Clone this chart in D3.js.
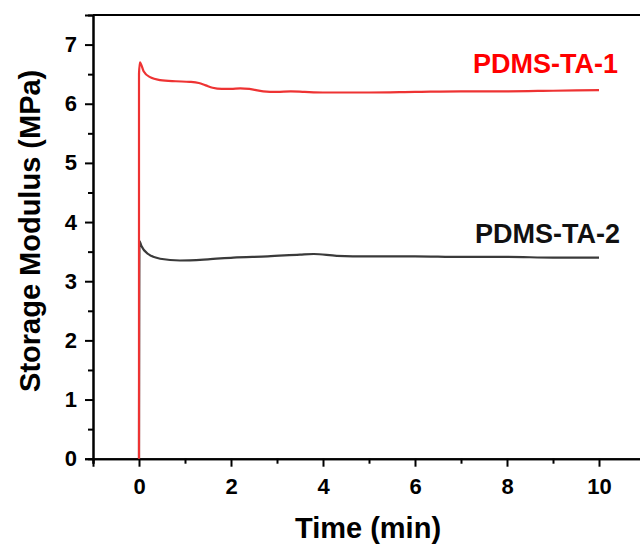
<!DOCTYPE html>
<html>
<head>
<meta charset="utf-8">
<script src="https://cdn.jsdelivr.net/npm/d3@7"></script>
<style>
  body { margin: 0; background: #fff; }
  svg text { font-family: "Liberation Sans", Arial, sans-serif; font-weight: bold; }
</style>
</head>
<body>
<div id="chart"></div>
<script>
"use strict"

// data
const timeTA1 = [0, 0, 0.02, 0.1, 0.24, 0.46, 0.8, 1.1, 1.3, 1.45, 1.6, 1.8, 2.0, 2.2, 2.4, 2.7, 3.0, 3.3, 3.6, 4.0, 5.0, 6.0, 7.0, 8.0, 9.0, 10.0];
const modTA1  = [0, 6.5, 6.7, 6.55, 6.45, 6.40, 6.38, 6.37, 6.35, 6.31, 6.27, 6.25, 6.25, 6.26, 6.25, 6.21, 6.20, 6.21, 6.20, 6.19, 6.19, 6.20, 6.21, 6.21, 6.22, 6.23];
const timeTA2 = [0, 0.01, 0.05, 0.2, 0.46, 0.89, 1.5, 2.05, 2.8, 3.5, 3.8, 4.3, 5.0, 6.0, 7.0, 8.0, 9.0, 10.0];
const modTA2  = [0, 3.68, 3.6, 3.46, 3.38, 3.35, 3.37, 3.40, 3.42, 3.45, 3.46, 3.43, 3.42, 3.42, 3.41, 3.41, 3.40, 3.40];
const xTicks = [0, 2, 4, 6, 8, 10];
const yTicks = [0, 1, 2, 3, 4, 5, 6, 7];
const series = [
    {name: "PDMS-TA-2", x: timeTA2, y: modTA2, line: "#3a3a3a", label: "#111111"},
    {name: "PDMS-TA-1", x: timeTA1, y: modTA1, line: "#ee3333", label: "#ff0000"}
];

//---------------------------SETUP----------------------------//
const width = 640;
const height = 545;
const plot = {left: 93, top: 15, bottom: 458.7};

const svg = d3.select("#chart").append("svg")
    .attr("width", width)
    .attr("height", height);

const xScale = d3.scaleLinear().domain([-1, 11]).range([plot.left, plot.left + 12 * 46]);
const yScale = d3.scaleLinear().domain([0, 7.5]).range([plot.bottom, plot.top]);

//----------------------------AXES----------------------------//
svg.append("g")
    .attr("transform", `translate(0,${plot.bottom})`)
    .call(d3.axisBottom(xScale).tickValues(xTicks).tickFormat(d3.format("d")).tickSize(8).tickPadding(12));
svg.append("g")
    .attr("transform", `translate(0,${plot.bottom})`)
    .call(d3.axisBottom(xScale).tickValues([-1, 1, 3, 5, 7, 9]).tickFormat("").tickSize(5));

svg.append("g")
    .attr("transform", `translate(${plot.left},0)`)
    .call(d3.axisLeft(yScale).tickValues(yTicks).tickFormat(d3.format("d")).tickSize(8).tickPadding(8));
svg.append("g")
    .attr("transform", `translate(${plot.left},0)`)
    .call(d3.axisLeft(yScale).tickValues([0.5, 1.5, 2.5, 3.5, 4.5, 5.5, 6.5]).tickFormat("").tickSize(5));

svg.selectAll(".domain").attr("stroke", "#000").attr("stroke-width", 2);
svg.selectAll(".tick line").attr("stroke", "#000").attr("stroke-width", 2);
svg.selectAll(".tick text").style("font-size", "22px").attr("fill", "#000");

// top frame line
svg.append("line")
    .attr("x1", plot.left).attr("x2", width)
    .attr("y1", plot.top).attr("y2", plot.top)
    .attr("stroke", "#000").attr("stroke-width", 2);

svg.append("text")
    .attr("x", 368).attr("y", 538)
    .attr("text-anchor", "middle")
    .style("font-size", "29px")
    .text("Time (min)");

svg.append("text")
    .attr("transform", `translate(40,${(plot.top + plot.bottom) / 2 - 6}) rotate(-90)`)
    .attr("text-anchor", "middle")
    .style("font-size", "29px")
    .text("Storage Modulus (MPa)");

//----------------------------LINES---------------------------//
const line = d3.line()
    .x(d => xScale(d[0]))
    .y(d => yScale(d[1]))
    .curve(d3.curveMonotoneX);

series.forEach(s => {
    svg.append("path")
        .datum(d3.zip(s.x, s.y))
        .attr("fill", "none")
        .attr("stroke", s.line)
        .attr("stroke-width", 2.2)
        .attr("d", line);
});

svg.append("text")
    .attr("x", 618).attr("y", 73)
    .attr("text-anchor", "end")
    .attr("fill", series[1].label)
    .style("font-size", "27px")
    .text(series[1].name);

svg.append("text")
    .attr("x", 620).attr("y", 243)
    .attr("text-anchor", "end")
    .attr("fill", series[0].label)
    .style("font-size", "27px")
    .text(series[0].name);
</script>
</body>
</html>
